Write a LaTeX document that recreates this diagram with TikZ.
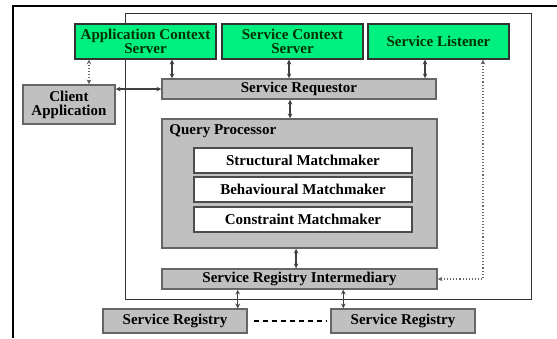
\documentclass[tikz,border=0pt]{standalone}
\usepackage{fontspec}
\setmainfont{Liberation Serif}
\definecolor{boxgreen}{RGB}{0,240,128}
\definecolor{boxgray}{RGB}{192,192,192}
\begin{document}
\begin{tikzpicture}[x=1pt,y=-1pt,>=stealth,
    txt/.style={font=\fontsize{15}{14}\selectfont\bfseries,align=center,inner sep=0pt},
    greenbox/.style={txt,draw=black!80,line width=1.3pt,fill=boxgreen,text=black!80!green,minimum width=141pt,minimum height=35pt},
    graybox/.style={txt,draw=black!60,line width=1.5pt,fill=boxgray,minimum height=20pt},
    whitebox/.style={txt,draw=black!70,line width=1.3pt,fill=white,minimum width=218pt,minimum height=25pt},
    link/.style={<->,line width=1.1pt,black!75},
    weak/.style={<->,line width=1.1pt,black!60,dotted}]
    \useasboundingbox (0,0) rectangle (557,338);
    % page edge and system frame
    \draw[line width=2pt](13,338)--(13,6)--(557,6);
    \draw[black!80,line width=0.8pt](125,13)rectangle(531,299);

    \node[greenbox] (acs) at (145.5,41.5) {Application Context\\Server};
    \node[greenbox] (scs) at (292.5,41.5) {Service Context\\Server};
    \node[greenbox] (sl) at (438.5,41.5) {Service Listener};
    \node[graybox,minimum width=92pt,minimum height=39pt] (client) at (69,104.5) {Client\\Application};
    \node[graybox,minimum width=274pt] (req) at (299,89) {Service Requestor};
    \node[graybox,minimum width=275pt,minimum height=129pt] (qp) at (299.5,183.5) {};
    \node[txt,anchor=north west] (qplabel) at ([shift={(8pt,-6pt)}]qp.north west) {Query Processor};
    \foreach \n/\y/\t in {st/160.5/Structural, be/189.5/Behavioural, co/219.5/Constraint}{
        \node[whitebox] (\n) at (303,\y) {\t\ Matchmaker};
    }
    \node[graybox,minimum width=275pt] (sri) at (299.5,279) {Service Registry Intermediary};
    \node[graybox,minimum width=144pt,minimum height=24pt] (sr1) at (175,321) {Service Registry};
    \node[graybox,minimum width=144pt,minimum height=24pt] (sr2) at (403,321) {Service Registry};

    \draw[weak]([xshift=20pt]client.north)--([xshift=20pt]client.north |- acs.south);
    \draw[link]([xshift=26.5pt]acs.south)--([xshift=26.5pt]acs.south |- req.north);
    \draw[link]([xshift=-3.5pt]scs.south)--([xshift=-3.5pt]scs.south |- req.north);
    \draw[link]([xshift=-13.5pt]sl.south)--([xshift=-13.5pt]sl.south |- req.north);
    \draw[link](req.west -| client.east)--(req.west);
    \draw[link]([xshift=-9pt]req.south)--([xshift=-9pt]req.south |- qp.north);
    \draw[link]([xshift=-3.5pt]qp.south)--([xshift=-3.5pt]qp.south |- sri.north);
    \draw[link]([xshift=-10pt]sr1.north east)--([xshift=-10pt]sr1.north east |- sri.south);
    \draw[link]([xshift=13pt]sr2.north west)--([xshift=13pt]sr2.north west |- sri.south);
    \draw[weak](sri.east)-|([xshift=44.5pt]sl.south);
    \draw[line width=2pt,dash pattern=on 5pt off 4pt,shorten <=6pt,shorten >=4pt](sr1.east)--(sr2.west);
\end{tikzpicture}
\end{document}
